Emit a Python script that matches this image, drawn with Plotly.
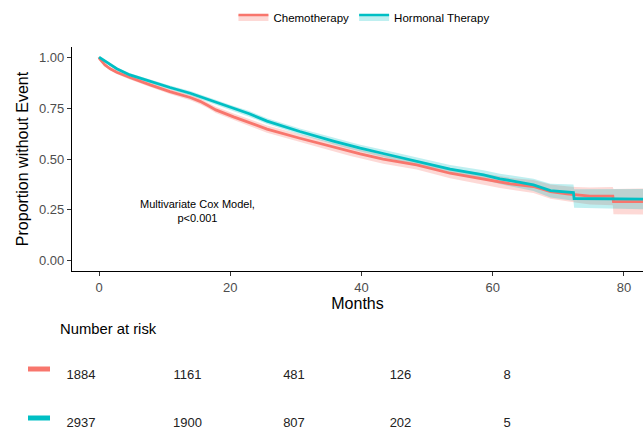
import plotly.graph_objects as go

# ---------------- data ----------------
chemo_months = [0, 0.1, 0.9, 1.7, 2.7, 4.7, 7.8, 10.8, 13.9, 15.4, 16.6, 17.8, 20.5, 22.9, 25.6,
                30.6, 35.7, 38.3, 39.8, 43.3, 48.4, 53.5, 58.6, 61.1, 62.7, 66.2, 68.8,
                71.3, 72.6, 74.8, 78.3, 78.4, 82.9]
chemo_surv = [1.0, 0.992, 0.962, 0.943, 0.926, 0.900, 0.864, 0.831, 0.802, 0.783, 0.763,
              0.741, 0.707, 0.679, 0.647, 0.602, 0.558, 0.536, 0.525, 0.499, 0.471, 0.430, 0.401,
              0.385, 0.378, 0.365, 0.340, 0.329, 0.324, 0.318, 0.318, 0.291, 0.291]
chemo_ci = [0, 0.003, 0.006, 0.007, 0.008, 0.010, 0.011, 0.012, 0.013, 0.014, 0.014, 0.015,
            0.016, 0.017, 0.018, 0.019, 0.020, 0.021, 0.021, 0.022, 0.023, 0.025, 0.027, 0.028,
            0.029, 0.032, 0.035, 0.037, 0.038, 0.042, 0.045, 0.062, 0.064]

horm_months = [0, 0.9, 1.7, 2.7, 4.7, 7.8, 10.8, 13.9, 15.4, 17.8, 20.5, 22.9, 25.6, 30.6, 35.7,
               38.3, 39.8, 43.3, 48.4, 53.5, 58.6, 61.1, 62.7, 66.2, 68.8, 72.3, 72.4, 82.9]
horm_surv = [1.0, 0.982, 0.962, 0.943, 0.913, 0.880, 0.851, 0.823, 0.806, 0.777, 0.747,
             0.722, 0.686, 0.635, 0.588, 0.565, 0.553, 0.527, 0.488, 0.450, 0.422, 0.402, 0.394,
             0.373, 0.345, 0.335, 0.306, 0.303]
horm_ci = [0, 0.004, 0.006, 0.007, 0.008, 0.009, 0.010, 0.011, 0.011, 0.012, 0.013, 0.014,
           0.014, 0.015, 0.016, 0.016, 0.017, 0.018, 0.019, 0.021, 0.023, 0.025, 0.026, 0.030,
           0.034, 0.040, 0.045, 0.050]

risk_times = [0, 20, 40, 60, 80]
risk_chemo = [1884, 1161, 481, 126, 8]
risk_horm = [2937, 1900, 807, 202, 5]

groups = ["Chemotherapy", "Hormonal Therapy"]
line_colors = ["#F8766D", "#00BFC4"]
band_colors = ["rgba(248,118,109,0.28)", "rgba(0,191,196,0.25)"]

FONT = "Liberation Sans, Arial, sans-serif"

fig = go.Figure()

series = [(chemo_months, chemo_surv, chemo_ci), (horm_months, horm_surv, horm_ci)]
for (m, s, ci), name, lc, bc in zip(series, groups, line_colors, band_colors):
    upper = [v + c for v, c in zip(s, ci)]
    lower = [v - c for v, c in zip(s, ci)]
    fig.add_trace(go.Scatter(x=m + m[::-1], y=upper + lower[::-1], fill="toself",
                             fillcolor=bc, line=dict(width=0), mode="lines",
                             hoverinfo="skip", showlegend=False, legendgroup=name))
for (m, s, ci), name, lc, bc in zip(series, groups, line_colors, band_colors):
    fig.add_trace(go.Scatter(x=m, y=s, mode="lines", name=name, legendgroup=name,
                             line=dict(color=lc, width=2.8), showlegend=False))
# legend keys (no data)
for name, lc, bc in zip(groups, line_colors, band_colors):
    fig.add_trace(go.Scatter(x=[None], y=[None], mode="lines", name=name, fill="toself",
                             fillcolor=bc, line=dict(color=lc, width=2.6), legendgroup=name))

# number at risk table
for counts, yv in zip([risk_chemo, risk_horm], [2, 1]):
    fig.add_trace(go.Scatter(x=risk_times, y=[yv] * len(risk_times), mode="text",
                             text=[str(c) for c in counts], textposition="middle center",
                             textfont=dict(family=FONT, size=13, color="#222222"),
                             xaxis="x2", yaxis="y2", showlegend=False, hoverinfo="skip"))

axis_common = dict(showgrid=False, zeroline=False, showline=True, linecolor="black",
                   linewidth=1.1, ticks="outside", ticklen=4, tickcolor="#333333",
                   tickwidth=1, tickfont=dict(family=FONT, size=13, color="#4D4D4D"))

fig.update_layout(
    width=643, height=435,
    margin=dict(l=0, r=0, t=0, b=0),
    paper_bgcolor="white", plot_bgcolor="white",
    font=dict(family=FONT, color="black"),
    xaxis=dict(domain=[72 / 643, 1], range=[-4.12, 82.9], tickvals=[0, 20, 40, 60, 80],
               title=dict(text="Months", font=dict(family=FONT, size=16, color="black"),
                          standoff=2), **axis_common),
    yaxis=dict(domain=[1 - 271 / 435, 1 - 47 / 435], range=[-0.05, 1.05],
               tickvals=[0, 0.25, 0.5, 0.75, 1.0], tickformat=".2f",
               title=dict(text="Proportion without Event",
                          font=dict(family=FONT, size=16, color="black"), standoff=6),
               **axis_common),
    xaxis2=dict(domain=[0, 1], range=[-15.21, 105.54], anchor="y2", visible=False),
    yaxis2=dict(domain=[0, 1 - 310 / 435], range=[0.771, 3.375], anchor="x2", visible=False),
    legend=dict(orientation="h", x=0.566, xanchor="center", y=1 - 17 / 435, yanchor="middle",
                font=dict(family=FONT, size=11.5, color="black"), itemwidth=30,
                bgcolor="rgba(0,0,0,0)"),
    showlegend=True,
)

fig.add_annotation(x=15, y=0.245, xref="x", yref="y", text="Multivariate Cox Model,<br>p<0.001",
                   showarrow=False, font=dict(family=FONT, size=11, color="black"),
                   align="center")
fig.add_annotation(x=58 / 643, y=1 - 329 / 435, xref="paper", yref="paper",
                   text="Number at risk", showarrow=False, xanchor="left", yanchor="middle",
                   font=dict(family=FONT, size=14.8, color="black"))
# colour keys for the risk table rows
for yk, col in zip([1 - 369 / 435, 1 - 418 / 435], line_colors):
    fig.add_shape(type="line", xref="paper", yref="paper", x0=28 / 643, x1=50 / 643,
                  y0=yk, y1=yk, line=dict(color=col, width=5))

fig.write_html("out.html", post_script="document.body.style.margin='0';",
               config={"displayModeBar": False})
